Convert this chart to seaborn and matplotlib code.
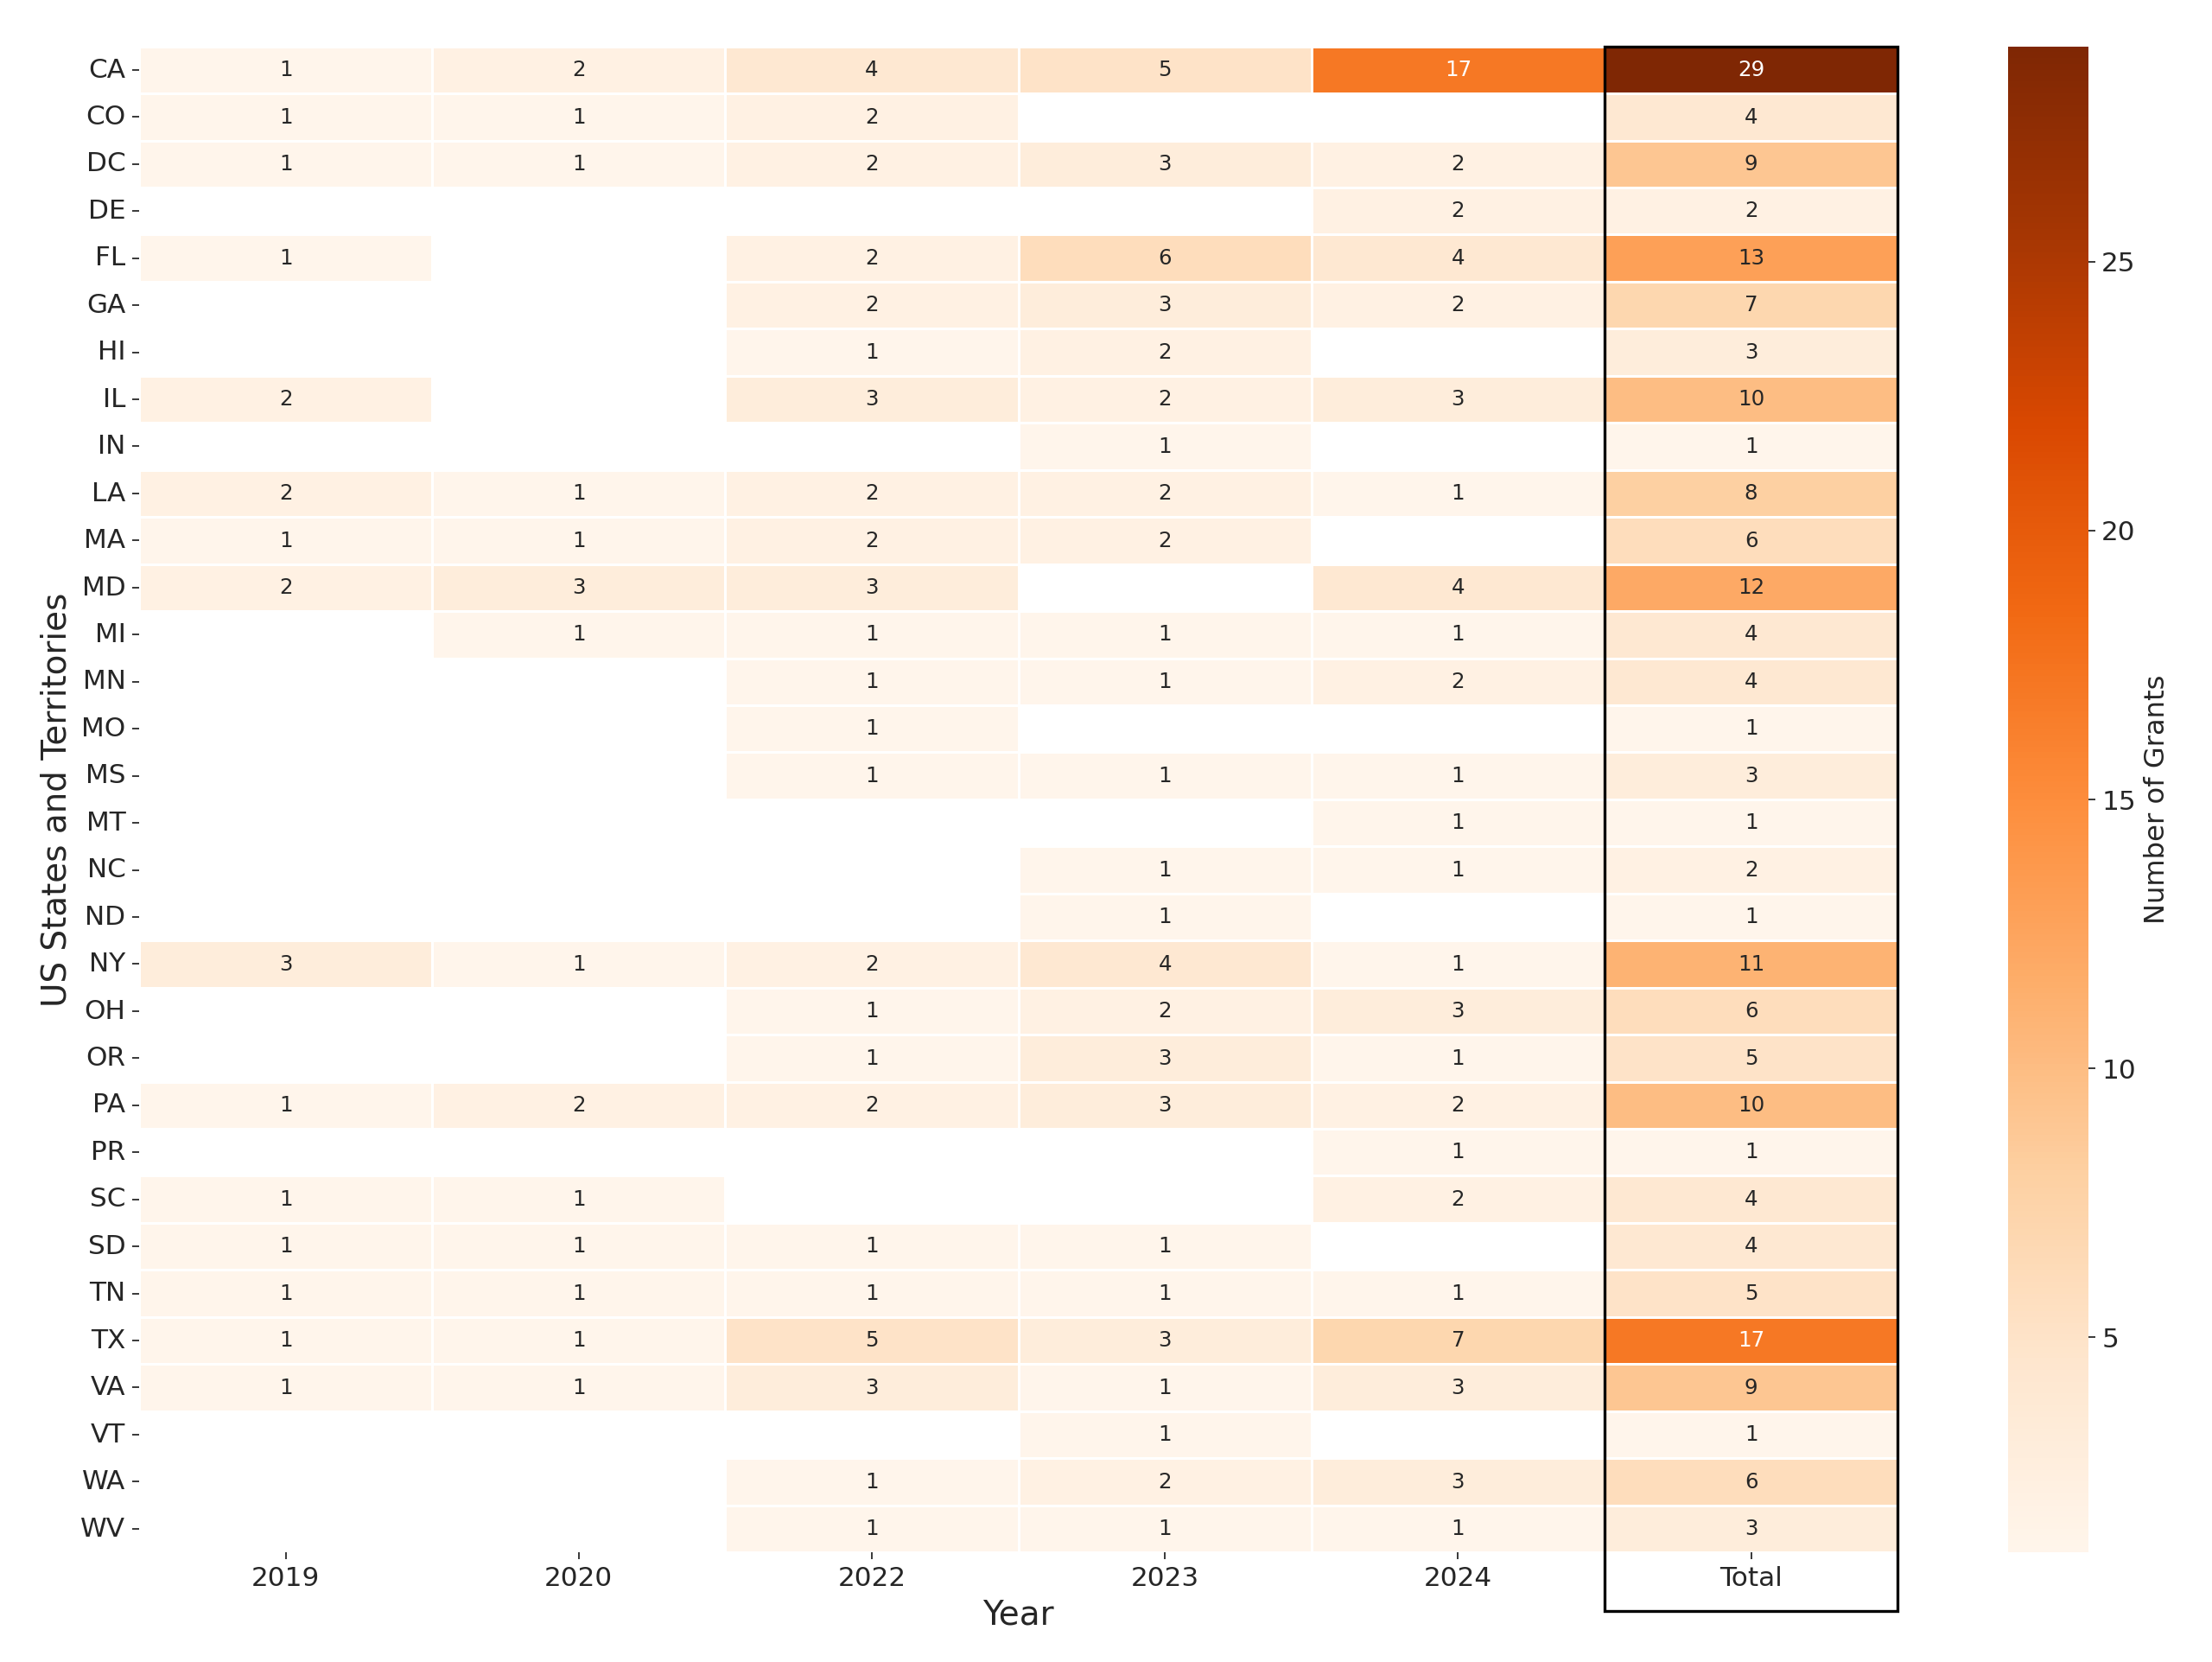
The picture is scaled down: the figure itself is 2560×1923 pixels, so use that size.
import numpy as np
import pandas as pd
import seaborn as sns
import matplotlib.pyplot as plt
from matplotlib.patches import Rectangle

states = ['CA', 'CO', 'DC', 'DE', 'FL', 'GA', 'HI', 'IL', 'IN', 'LA', 'MA', 'MD',
          'MI', 'MN', 'MO', 'MS', 'MT', 'NC', 'ND', 'NY', 'OH', 'OR', 'PA', 'PR',
          'SC', 'SD', 'TN', 'TX', 'VA', 'VT', 'WA', 'WV']
columns = ['2019', '2020', '2022', '2023', '2024', 'Total']

n = np.nan
grants_2019 = [1, 1, 1, n, 1, n, n, 2, n, 2, 1, 2, n, n, n, n, n, n, n, 3, n, n, 1, n, 1, 1, 1, 1, 1, n, n, n]
grants_2020 = [2, 1, 1, n, n, n, n, n, n, 1, 1, 3, 1, n, n, n, n, n, n, 1, n, n, 2, n, 1, 1, 1, 1, 1, n, n, n]
grants_2022 = [4, 2, 2, n, 2, 2, 1, 3, n, 2, 2, 3, 1, 1, 1, 1, n, n, n, 2, 1, 1, 2, n, n, 1, 1, 5, 3, n, 1, 1]
grants_2023 = [5, n, 3, n, 6, 3, 2, 2, 1, 2, 2, n, 1, 1, n, 1, n, 1, 1, 4, 2, 3, 3, n, n, 1, 1, 3, 1, 1, 2, 1]
grants_2024 = [17, n, 2, 2, 4, 2, n, 3, n, 1, n, 4, 1, 2, n, 1, 1, 1, n, 1, 3, 1, 2, 1, 2, n, 1, 7, 3, n, 3, 1]
grants_total = [29, 4, 9, 2, 13, 7, 3, 10, 1, 8, 6, 12, 4, 4, 1, 3, 1, 2, 1, 11, 6, 5, 10, 1, 4, 4, 5, 17, 9, 1, 6, 3]

df = pd.DataFrame({'2019': grants_2019, '2020': grants_2020, '2022': grants_2022,
                   '2023': grants_2023, '2024': grants_2024, 'Total': grants_total},
                  index=states)[columns]

plt.rcParams.update({'text.color': '#262626', 'axes.labelcolor': '#262626',
                     'xtick.color': '#262626', 'ytick.color': '#262626'})

fig = plt.figure(figsize=(16, 12.02), dpi=160)
ax = fig.add_axes([0.0629, 0.066, 0.795, 0.906])
cax = fig.add_axes([0.908, 0.066, 0.036, 0.906])

sns.heatmap(df, ax=ax, cbar_ax=cax, cmap='Oranges', annot=True, fmt='.0f',
            annot_kws={'fontsize': 11}, linewidths=0.5, linecolor='white',
            cbar_kws={'label': 'Number of Grants'})

# box around the Total column, running down past the tick label
ax.add_patch(Rectangle((5, 0), 1, 33.25, fill=False, edgecolor='black',
                       lw=1.5, clip_on=False))

ax.set_xlabel('Year', fontsize=17.5)
ax.set_ylabel('US States and Territories', fontsize=17.5)
ax.tick_params(axis='both', labelsize=14)
plt.setp(ax.get_yticklabels(), rotation=0)
cax.tick_params(labelsize=14)
cax.yaxis.label.set_size(14.5)

fig.savefig('out.png')
